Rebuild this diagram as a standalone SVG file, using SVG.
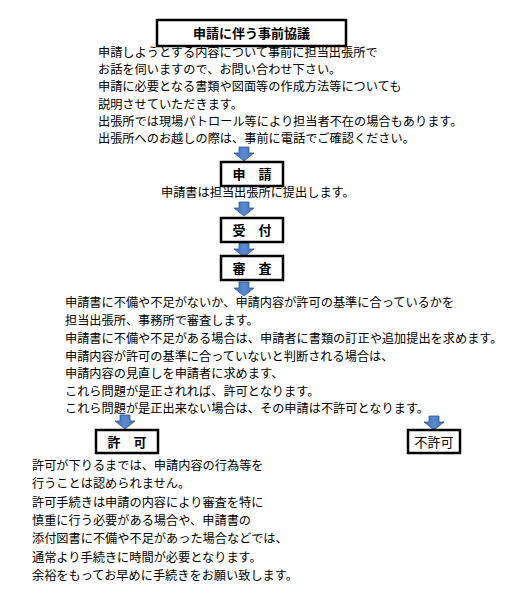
<svg xmlns="http://www.w3.org/2000/svg" xmlns:xlink="http://www.w3.org/1999/xlink" width="512" height="600" viewBox="0 0 512 600">
<defs>
<linearGradient id="ag" x1="0" y1="0" x2="1" y2="0">
<stop offset="0" stop-color="#3f6fae"/>
<stop offset="0.5" stop-color="#5a8bd0"/>
<stop offset="1" stop-color="#3f6fae"/>
</linearGradient>
<path id="arr" d="M-5,0 H5 V6 H10 L0,14 L-10,6 H-5 Z" fill="url(#ag)" stroke="#2f5597" stroke-width="0.8"/>
</defs>
<style>
.box{fill:#fff;stroke:#000;stroke-width:2.5}
.t{font-family:"Noto Sans CJK JP","Noto Sans CJK SC",sans-serif;font-size:12.2px;fill:#000}
.h{font-family:"Noto Sans CJK JP","Noto Sans CJK SC",sans-serif;font-size:13px;font-weight:bold;fill:#000;text-anchor:middle}
</style>
<rect width="512" height="600" fill="#fff"/>
<g id="connectors">
<use xlink:href="#arr" x="244" y="147"/>
<use xlink:href="#arr" x="244" y="202"/>
<use xlink:href="#arr" x="244" y="243"/>
<use xlink:href="#arr" x="244" y="282"/>
<use xlink:href="#arr" x="125" y="415"/>
<use xlink:href="#arr" x="434" y="416"/>
</g>
<g id="node-kyogi">
<rect class="box" x="157" y="20" width="189" height="26"/>
<text class="h" x="251.5" y="38">申請に伴う事前協議</text>
</g>
<g id="text-kyogi">
<text class="t" x="98" y="57">申請しようとする内容について事前に担当出張所で</text>
<text class="t" x="98" y="74">お話を伺いますので、お問い合わせ下さい。</text>
<text class="t" x="98" y="91">申請に必要となる書類や図面等の作成方法等についても</text>
<text class="t" x="98" y="109">説明させていただきます。</text>
<text class="t" x="98" y="126">出張所では現場パトロール等により担当者不在の場合もあります。</text>
<text class="t" x="98" y="143">出張所へのお越しの際は、事前に電話でご確認ください。</text>
</g>
<g id="node-shinsei">
<rect class="box" x="221" y="162" width="62" height="24"/>
<text class="h" x="252" y="179">申　請</text>
</g>
<text class="t" x="161" y="197">申請書は担当出張所に提出します。</text>
<g id="node-uketsuke">
<rect class="box" x="221" y="218" width="62" height="24"/>
<text class="h" x="252" y="235">受　付</text>
</g>
<g id="node-shinsa">
<rect class="box" x="221" y="256" width="62" height="24"/>
<text class="h" x="252" y="273">審　査</text>
</g>
<g id="text-shinsa">
<text class="t" x="65" y="307">申請書に不備や不足がないか、申請内容が許可の基準に合っているかを</text>
<text class="t" x="65" y="325">担当出張所、事務所で審査します。</text>
<text class="t" x="65" y="343">申請書に不備や不足がある場合は、申請者に書類の訂正や追加提出を求めます。</text>
<text class="t" x="65" y="361">申請内容が許可の基準に合っていないと判断される場合は、</text>
<text class="t" x="65" y="378">申請内容の見直しを申請者に求めます、</text>
<text class="t" x="65" y="396">これら問題が是正されれば、許可となります。</text>
<text class="t" x="65" y="413">これら問題が是正出来ない場合は、その申請は不許可となります。</text>
</g>
<g id="node-kyoka">
<rect class="box" x="96" y="430" width="62" height="23"/>
<text class="h" x="127" y="446.5">許　可</text>
</g>
<g id="node-fukyoka">
<rect class="box" x="408" y="430" width="52" height="23"/>
<text class="h" x="434" y="446.5" style="font-weight:normal">不許可</text>
</g>
<g id="text-kyoka">
<text class="t" x="32" y="470">許可が下りるまでは、申請内容の行為等を</text>
<text class="t" x="32" y="488">行うことは認められません。</text>
<text class="t" x="32" y="507">許可手続きは申請の内容により審査を特に</text>
<text class="t" x="32" y="525">慎重に行う必要がある場合や、申請書の</text>
<text class="t" x="32" y="543">添付図書に不備や不足があった場合などでは、</text>
<text class="t" x="32" y="562">通常より手続きに時間が必要となります。</text>
<text class="t" x="32" y="580">余裕をもってお早めに手続きをお願い致します。</text>
</g>
</svg>
